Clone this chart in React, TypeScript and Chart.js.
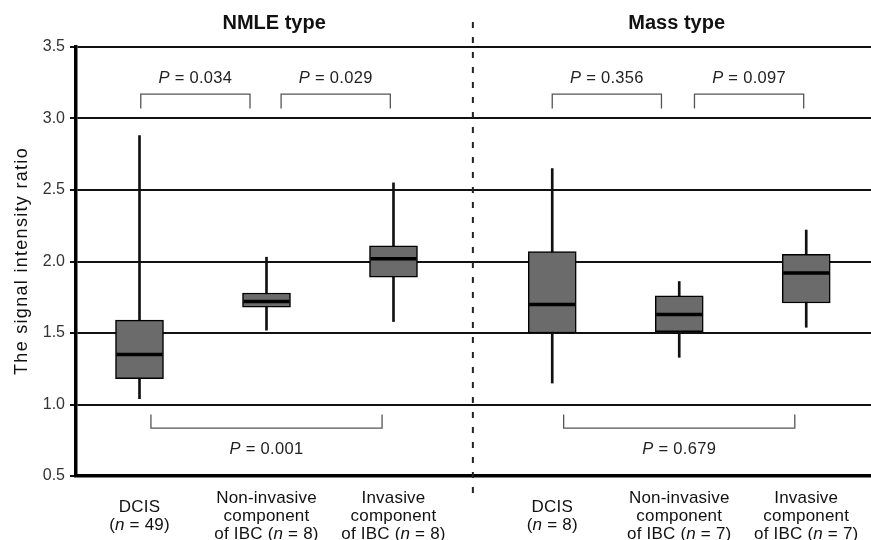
import React, { useEffect, useRef } from 'react';
import { Chart, registerables } from 'chart.js';

Chart.register(...registerables);

// ---------- data ----------
const categoryLabels: string[][] = [
  ['DCIS', '(n = 49)'],
  ['Non-invasive', 'component', 'of IBC (n = 8)'],
  ['Invasive', 'component', 'of IBC (n = 8)'],
  ['DCIS', '(n = 8)'],
  ['Non-invasive', 'component', 'of IBC (n = 7)'],
  ['Invasive', 'component', 'of IBC (n = 7)'],
];
const groupTitles = ['NMLE type', 'Mass type'];
const groupOfCategory = [0, 0, 0, 1, 1, 1];

const whiskerLow = [1.04, 1.52, 1.58, 1.15, 1.33, 1.54];
const q1 = [1.18, 1.68, 1.89, 1.5, 1.51, 1.71];
const median = [1.35, 1.72, 2.02, 1.7, 1.63, 1.92];
const q3 = [1.59, 1.78, 2.11, 2.07, 1.76, 2.05];
const whiskerHigh = [2.88, 2.03, 2.55, 2.65, 1.86, 2.22];

const yTickValues = [0.5, 1.0, 1.5, 2.0, 2.5, 3.0, 3.5];
const yTitle = 'The signal intensity ratio';

const topPairs = [[0, 1], [1, 2], [3, 4], [4, 5]];
const topPValues = ['0.034', '0.029', '0.356', '0.097'];
const bottomPairs = [[0, 2], [3, 5]];
const bottomPValues = ['0.001', '0.679'];

// ---------- layout ----------
const GROUP_GAP = 0.25;
const pos = (i: number) => i + groupOfCategory[i] * GROUP_GAP;
const BOX_W = 48;
const FONT = '"Liberation Sans", Arial, Helvetica, sans-serif';
const TOP_BRACKET = { line: 3.17, leg: 3.07, text: 3.29 };
const BOTTOM_BRACKET = { line: 0.835, leg: 0.93, text: 0.695 };
const topInsets = [[0.01, -0.13], [0.115, -0.025], [0.0, -0.14], [0.12, -0.02]];
const bottomInset = 0.09;

function drawRich(ctx: CanvasRenderingContext2D, line: string, cx: number, by: number, size: number, color: string, spacing = 0) {
  const parts = line.split(/\b([nP])(?=\s*=)/);
  const fonts = parts.map((_, k) => (k % 2 === 1 ? `italic ${size}px ${FONT}` : `${size}px ${FONT}`));
  (ctx as any).letterSpacing = `${spacing}px`;
  let total = 0;
  const widths = parts.map((p, k) => {
    ctx.font = fonts[k];
    const w = ctx.measureText(p).width;
    total += w;
    return w;
  });
  let x = cx - total / 2;
  ctx.fillStyle = color;
  ctx.textAlign = 'left';
  ctx.textBaseline = 'alphabetic';
  parts.forEach((p, k) => {
    ctx.font = fonts[k];
    ctx.fillText(p, x, by);
    x += widths[k];
  });
  (ctx as any).letterSpacing = '0px';
}

const annotPlugin = {
  id: 'annot',
  afterDatasetsDraw(chart: any) {
    const { ctx, scales } = chart;
    const x = scales.x;
    const y = scales.y;
    ctx.save();

    // medians
    ctx.strokeStyle = '#000';
    ctx.lineWidth = 3.5;
    median.forEach((m, i) => {
      const cx = x.getPixelForValue(pos(i));
      const py = y.getPixelForValue(m);
      ctx.beginPath();
      ctx.moveTo(cx - BOX_W / 2 + 1, py);
      ctx.lineTo(cx + BOX_W / 2 - 1, py);
      ctx.stroke();
    });

    // top brackets
    ctx.strokeStyle = '#555';
    ctx.lineWidth = 1.3;
    topPairs.forEach(([a, b], k) => {
      const x1 = x.getPixelForValue(pos(a) + topInsets[k][0]);
      const x2 = x.getPixelForValue(pos(b) + topInsets[k][1]);
      const yl = y.getPixelForValue(TOP_BRACKET.line);
      const yg = y.getPixelForValue(TOP_BRACKET.leg);
      ctx.beginPath();
      ctx.moveTo(x1, yg);
      ctx.lineTo(x1, yl);
      ctx.lineTo(x2, yl);
      ctx.lineTo(x2, yg);
      ctx.stroke();
      drawRich(ctx, `P = ${topPValues[k]}`, (x1 + x2) / 2, y.getPixelForValue(TOP_BRACKET.text) + 5.5, 16.5, '#222', 0.3);
    });

    // bottom brackets
    bottomPairs.forEach(([a, b], k) => {
      const x1 = x.getPixelForValue(pos(a) + bottomInset);
      const x2 = x.getPixelForValue(pos(b) - bottomInset);
      const yl = y.getPixelForValue(BOTTOM_BRACKET.line);
      const yg = y.getPixelForValue(BOTTOM_BRACKET.leg);
      ctx.strokeStyle = '#555';
      ctx.lineWidth = 1.3;
      ctx.beginPath();
      ctx.moveTo(x1, yg);
      ctx.lineTo(x1, yl);
      ctx.lineTo(x2, yl);
      ctx.lineTo(x2, yg);
      ctx.stroke();
      drawRich(ctx, `P = ${bottomPValues[k]}`, (x1 + x2) / 2, y.getPixelForValue(BOTTOM_BRACKET.text) + 5.5, 16.5, '#222', 0.3);
    });

    // divider
    const dx = x.getPixelForValue((pos(2) + pos(3)) / 2);
    ctx.strokeStyle = '#222';
    ctx.lineWidth = 2;
    ctx.setLineDash([6, 9]);
    ctx.beginPath();
    ctx.moveTo(dx, 22);
    ctx.lineTo(dx, 502);
    ctx.stroke();
    ctx.setLineDash([]);

    // group titles
    ctx.fillStyle = '#111';
    ctx.font = `bold 20px ${FONT}`;
    ctx.textAlign = 'center';
    ctx.textBaseline = 'alphabetic';
    groupTitles.forEach((t, g) => {
      const idx = groupOfCategory.map((gg, i) => (gg === g ? i : -1)).filter((i) => i >= 0);
      const c = idx.reduce((s, i) => s + pos(i), 0) / idx.length;
      const shift = g === 0 ? 0.06 : -0.02;
      ctx.fillText(t, x.getPixelForValue(c + shift), 29);
    });

    // category labels
    const lh = 18;
    categoryLabels.forEach((lines, i) => {
      const cx = x.getPixelForValue(pos(i));
      const n = lines.length;
      lines.forEach((ln, j) => {
        const by = 521 + (j - (n - 1) / 2) * lh;
        drawRich(ctx, ln, cx, by, 17, '#111', 0.2);
      });
    });

    // y title
    ctx.save();
    ctx.translate(22, 261);
    ctx.rotate(-Math.PI / 2);
    ctx.font = `18px ${FONT}`;
    (ctx as any).letterSpacing = '1.3px';
    ctx.fillStyle = '#111';
    ctx.textAlign = 'center';
    ctx.textBaseline = 'middle';
    ctx.fillText(yTitle, 0, 0);
    ctx.restore();

    ctx.restore();
  },
};

export default function App() {
  const ref = useRef<HTMLCanvasElement | null>(null);
  useEffect(() => {
    if (!ref.current) return;
    const chart = new Chart(ref.current, {
      type: 'bar',
      data: {
        datasets: [
          {
            label: 'box',
            data: q1.map((v, i) => ({ x: pos(i), y: [v, q3[i]] })) as any,
            backgroundColor: '#6b6b6b',
            borderColor: '#000',
            borderWidth: 1.5,
            borderSkipped: false,
            barThickness: BOX_W,
            grouped: false,
            order: 1,
          } as any,
          {
            label: 'whisker',
            data: whiskerLow.map((v, i) => ({ x: pos(i), y: [v, whiskerHigh[i]] })) as any,
            backgroundColor: '#111',
            borderWidth: 0,
            barThickness: 2,
            grouped: false,
            order: 2,
          } as any,
        ],
      },
      options: {
        responsive: false,
        animation: false,
        events: [],
        layout: { padding: { top: 47, left: 0, right: 0, bottom: 0 } },
        plugins: { legend: { display: false }, tooltip: { enabled: false } },
        scales: {
          x: {
            type: 'linear',
            min: -0.5,
            max: 5.76,
            offset: false,
            grid: { display: false },
            border: { display: true, color: '#000', width: 3.5 },
            ticks: { display: false },
            afterFit: (s: any) => {
              s.height = 64;
            },
          },
          y: {
            type: 'linear',
            min: 0.5,
            max: 3.5,
            afterBuildTicks: (s: any) => {
              s.ticks = yTickValues.map((v) => ({ value: v }));
            },
            ticks: {
              callback: (v: any) => Number(v).toFixed(1),
              color: '#333',
              font: { family: FONT, size: 16 },
              padding: 5,
            },
            grid: { color: '#111', lineWidth: 2, tickLength: 6 },
            border: { display: true, color: '#000', width: 3.5 },
            afterFit: (s: any) => {
              s.width = 76;
            },
          },
        } as any,
      },
      plugins: [annotPlugin],
    });
    return () => chart.destroy();
  }, []);
  return (
    <div style={{ position: 'fixed', left: 0, top: 0, width: 871, height: 540, background: '#fff' }}>
      <canvas ref={ref} width={871} height={540} style={{ display: 'block' }} />
    </div>
  );
}
